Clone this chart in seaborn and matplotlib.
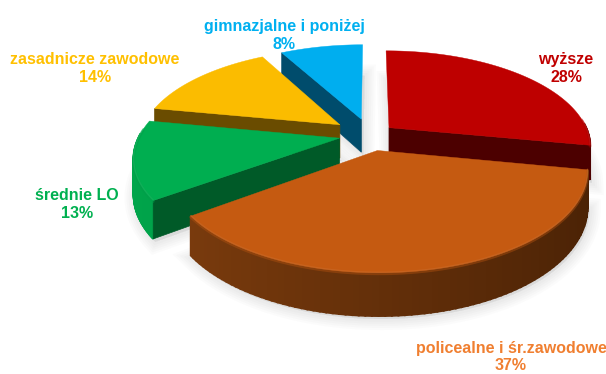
import numpy as np
import matplotlib
matplotlib.use('Agg')
import matplotlib.pyplot as plt
import seaborn as sns

# values
labels = ['wyższe', 'policealne i śr.zawodowe', 'średnie LO', 'zasadnicze zawodowe', 'gimnazjalne i poniżej']
values = [28, 37, 13, 14, 8]

# look of each slice
top_colors = ['#BE0000', '#C55A11', '#00AE50', '#FBBC00', '#00AEEF']
cut_colors = ['#4C0000', '#4F2406', '#005A28', '#6A4C00', '#004C6C']
rim_left = ['#6A0000', '#7E3D0E', '#00A54B', '#8A6500', '#006A94']
rim_right = ['#4C0000', '#4A2205', '#008A40', '#6A4C00', '#004C6C']
text_colors = ['#C00000', '#F07F30', '#00B050', '#FFC000', '#00B0F0']
explode = [0.125, 0.165, 0.155, 0.19, 0.18]
label_xy = [(566, 68), (511, 357), (77, 204), (95, 68), (284, 35)]
draw_order = [4, 0, 3, 2, 1]

# fake 3d camera
cx, cy = 370, 135
R, sy, dist, H = 200, 93.4, 5.45, 34


def project(X, Y, z=0.0):
    f = dist / (dist + Y)
    return cx + R * X * f, cy - sy * Y * f + z * H * f


def mix(c1, c2, t):
    a = np.array(matplotlib.colors.to_rgb(c1))
    b = np.array(matplotlib.colors.to_rgb(c2))
    return tuple(a + (b - a) * t)


sns.set_theme(style='white')
plt.rcParams['font.family'] = ['Liberation Sans', 'DejaVu Sans']

fig = plt.figure(figsize=(6.06, 3.74), dpi=100)
ax = fig.add_axes([0, 0, 1, 1])
ax.set_xlim(0, 606)
ax.set_ylim(374, 0)
ax.axis('off')

edges = np.cumsum([0] + values) / sum(values) * 2 * np.pi

# soft shadows go under everything
for i in draw_order:
    th = np.linspace(edges[i], edges[i + 1], 60)
    mid = (edges[i] + edges[i + 1]) / 2
    ox, oy = explode[i] * np.sin(mid), explode[i] * np.cos(mid)
    xs = np.r_[ox, ox + np.sin(th)]
    ys = np.r_[oy, oy + np.cos(th)]
    sx, sy_ = project(xs, ys, 1.0)
    for lw in (16, 13, 10, 7, 4):
        ax.fill(sx + 2, sy_ + 3, color='#666666', alpha=0.025, lw=lw, zorder=1)

z = 2
for i in draw_order:
    th = np.linspace(edges[i], edges[i + 1], 90)
    mid = (edges[i] + edges[i + 1]) / 2
    ox, oy = explode[i] * np.sin(mid), explode[i] * np.cos(mid)
    rx, ry = ox + np.sin(th), oy + np.cos(th)

    # outer rim, shaded left to right, back part stays hidden
    x0, y0 = project(rx, ry, 0)
    x1, y1 = project(rx, ry, 1)
    for k in range(len(th) - 1):
        if np.cos(th[k]) > 0.05:
            continue
        t = np.clip((np.sin(th[k]) + 1) / 2, 0, 1)
        ax.fill([x0[k], x0[k + 1], x1[k + 1], x1[k]], [y0[k], y0[k + 1], y1[k + 1], y1[k]],
                color=mix(rim_left[i], rim_right[i], t), lw=1.4, zorder=z)
    z += 1

    # flat cut faces, only the ones turned to the viewer
    for t, side in ((th[0], 1), (th[-1], -1)):
        if side * np.sin(t) >= 0:
            continue
        px = np.array([ox, ox + np.sin(t)])
        py = np.array([oy, oy + np.cos(t)])
        cx0, cy0 = project(px, py, 0)
        cx1, cy1 = project(px, py, 1)
        ax.fill(np.r_[cx0, cx1[::-1]], np.r_[cy0, cy1[::-1]], color=cut_colors[i], lw=0.5, zorder=z)
    z += 1

    # top face
    tx, ty = project(np.r_[ox, rx], np.r_[oy, ry], 0)
    ax.fill(tx, ty, color=top_colors[i], lw=0.3, zorder=z)
    z += 1

    # little bevel along the front of the rim only
    front = np.cos(th) < 0.1
    ax.plot(x0[front], y0[front] + 1, color=mix(top_colors[i], '#000000', 0.1), lw=2, alpha=0.45, zorder=z)
    ax.plot(x0[front], y0[front] - 0.5, color=mix(top_colors[i], '#FFFFFF', 0.12), lw=1, alpha=0.5, zorder=z)
    z += 1

for name, val, xy, col in zip(labels, values, label_xy, text_colors):
    ax.text(xy[0], xy[1] - 9, name, color=col, fontsize=11.5, fontweight='bold',
            ha='center', va='center', zorder=z)
    ax.text(xy[0], xy[1] + 9, f'{val}%', color=col, fontsize=11.5, fontweight='bold',
            ha='center', va='center', zorder=z)

fig.savefig('out.png', dpi=100)
